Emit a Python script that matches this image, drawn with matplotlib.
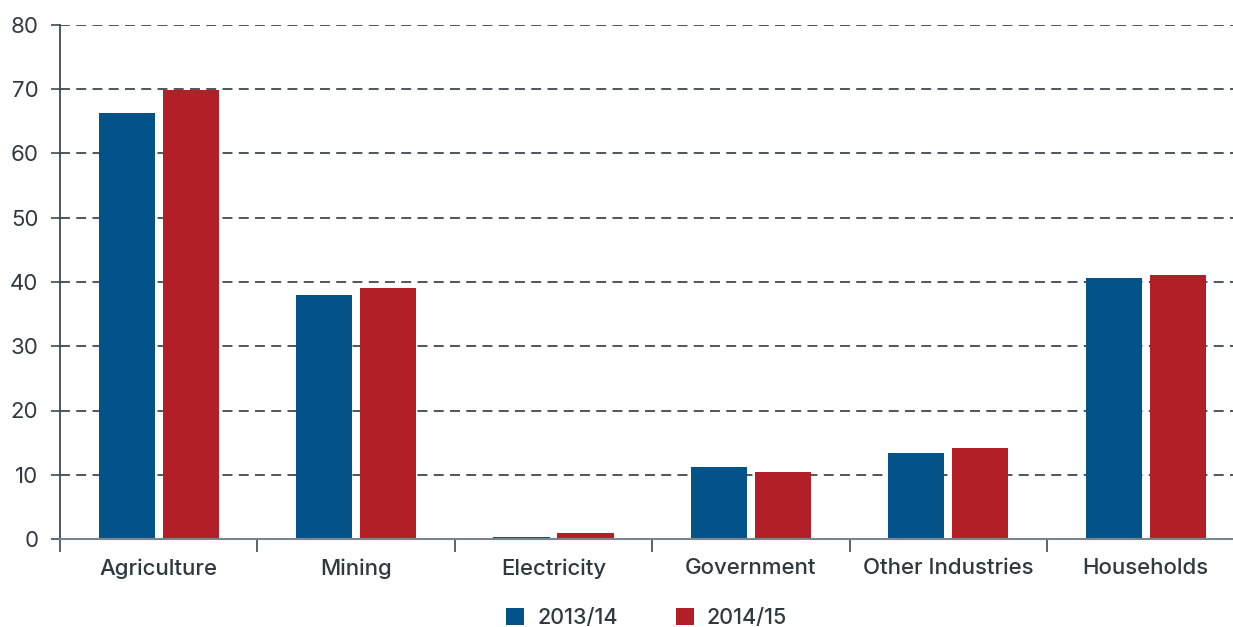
import numpy as np
import matplotlib.pyplot as plt

categories = ["Agriculture", "Mining", "Electricity", "Government", "Other Industries", "Households"]
series_names = ["2013/14", "2014/15"]
values_1314 = [66.3, 38.0, 0.3, 11.2, 13.4, 40.6]
values_1415 = [69.9, 39.1, 0.9, 10.4, 14.2, 41.1]

blue = "#03538a"
red = "#b21f26"
txt = "#2f3940"
grid_col = "#3e4951"

plt.rcParams['font.family'] = ['Inter', 'DejaVu Sans']

fig = plt.figure(figsize=(12.33, 6.27), dpi=100)
ax = fig.add_axes([60 / 1233, 1 - 539 / 627, 1 - 60 / 1233, (539 - 25) / 627])

x = np.arange(len(categories)) + 0.5
w = 0.284
off = 0.162
ax.bar(x - off, values_1314, w, color=blue, label=series_names[0], zorder=3)
ax.bar(x + off, values_1415, w, color=red, label=series_names[1], zorder=3)

ax.set_ylim(0, 80)
ax.set_yticks(range(0, 81, 10))
ax.set_xlim(0, (1233 - 60) / 197.4)

# category boundaries get the tick marks, labels sit at the centres
ax.set_xticks(range(len(categories)))
ax.set_xticklabels([])
ax.set_xticks(x, minor=True)
ax.set_xticklabels(categories, minor=True, fontweight='medium')
ax.tick_params(axis='x', which='major', length=9.5, width=1.2, color=grid_col, direction='out')
ax.tick_params(axis='x', which='minor', length=0, labelsize=16, labelcolor=txt, pad=14)
ax.tick_params(axis='y', length=6.5, width=1.2, color=grid_col, labelsize=16, labelcolor=txt, pad=9)

ax.yaxis.grid(True, linestyle=(0, (5.5, 3.5)), color=grid_col, linewidth=1.3, zorder=0)
for s in ['top', 'right']:
    ax.spines[s].set_visible(False)
ax.spines['left'].set_color(grid_col)
ax.spines['left'].set_linewidth(1.3)
ax.spines['bottom'].set_color("#7a858e")
ax.spines['bottom'].set_linewidth(1.5)
ax.spines['bottom'].set_zorder(4)

leg = ax.legend(loc='center', bbox_to_anchor=(0.5, -0.154), ncol=2, frameon=False,
                fontsize=15.5, labelcolor=txt, handlelength=0.85, handleheight=0.85,
                handletextpad=0.6, columnspacing=2.7)
for t in leg.get_texts():
    t.set_fontweight('medium')

fig.savefig("out.png", dpi=100)
